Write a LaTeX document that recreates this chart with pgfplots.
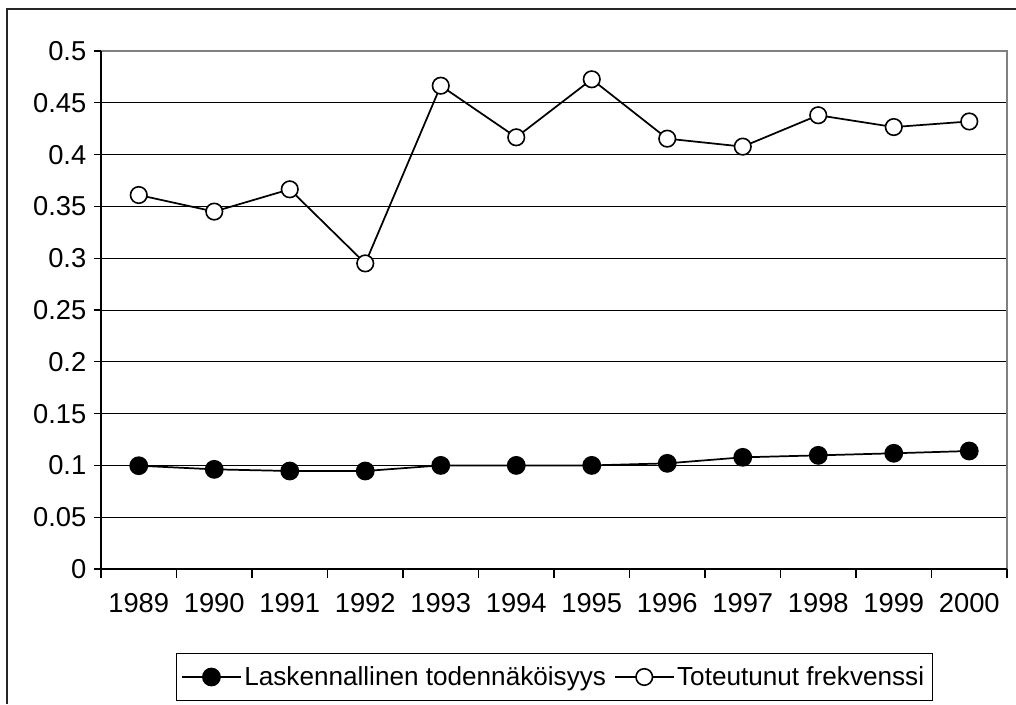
\documentclass[border=0pt]{standalone}
\usepackage{pgfplots}
\pgfplotsset{compat=1.18}
\usepackage{fontspec}
\setmainfont{Liberation Sans}
\begin{document}
\begin{tikzpicture}
\useasboundingbox (0,0) rectangle (762pt,528pt);
% outer chart frame (left and top edges visible)
\draw[line width=1.2pt, black!85] (5.25pt,0pt) -- (5.25pt,521.25pt) -- (762pt,521.25pt);
\begin{axis}[
  at={(75.75pt,101.25pt)}, anchor=south west,
  scale only axis, width=679.5pt, height=388.5pt,
  xmin=0.5, xmax=12.5, ymin=0, ymax=0.5,
  xtick pos=bottom, ytick pos=left,
  xtick={1,...,12},
  xticklabels={1989,1990,1991,1992,1993,1994,1995,1996,1997,1998,1999,2000},
  major x tick style={draw=none},
  minor xtick={0.5,1.5,...,12.5},
  minor x tick style={black, line width=0.8pt},
  minor tick length=7pt,
  ytick={0,0.05,...,0.5},
  major tick length=5.5pt,
  tick align=outside,
  y tick style={black, line width=0.8pt},
  ymajorgrids, grid style={black, line width=0.75pt},
  axis line style={draw=none},
  yticklabel style={/pgf/number format/fixed, /pgf/number format/precision=2, /pgf/number format/assume math mode=true, xshift=-2pt},
  xticklabel style={yshift=-9pt},
  ticklabel style={font=\fontsize{20.5pt}{24pt}\selectfont},
  legend columns=2,
  legend style={at={(0.5,-0.2085)}, anchor=center, draw=black, line width=0.6pt,
    font=\fontsize{19.6pt}{23pt}\selectfont, inner xsep=4pt, inner ysep=8pt,
    /tikz/every even column/.append style={column sep=4pt}},
  legend image code/.code={\draw[mark repeat=2,mark phase=2,#1] plot coordinates {(0pt,0pt) (22pt,0pt) (44pt,0pt)};},
  clip=false,
]
\draw[gray, line width=1.5pt] (rel axis cs:0,1) -- (rel axis cs:1,1) -- (rel axis cs:1,0);
\draw[black, line width=1pt] (rel axis cs:0,1) -- (rel axis cs:0,0) -- (rel axis cs:1,0);
\addplot[black, line width=1.3pt, mark=*, mark size=6.4pt, mark options={fill=black}] coordinates {
(1,0.0997) (2,0.0962) (3,0.0946) (4,0.0946) (5,0.1) (6,0.1) (7,0.1) (8,0.102) (9,0.1078) (10,0.1097) (11,0.1117) (12,0.1139)};
\addlegendentry{Laskennallinen todennäköisyys}
\addplot[black, line width=1.3pt, mark=*, mark size=6.2pt, mark options={fill=white, line width=1.2pt}] coordinates {
(1,0.361) (2,0.345) (3,0.3665) (4,0.295) (5,0.4665) (6,0.4167) (7,0.4727) (8,0.4154) (9,0.4077) (10,0.438) (11,0.4266) (12,0.432)};
\addlegendentry{Toteutunut frekvenssi}
\end{axis}
\end{tikzpicture}
\end{document}
